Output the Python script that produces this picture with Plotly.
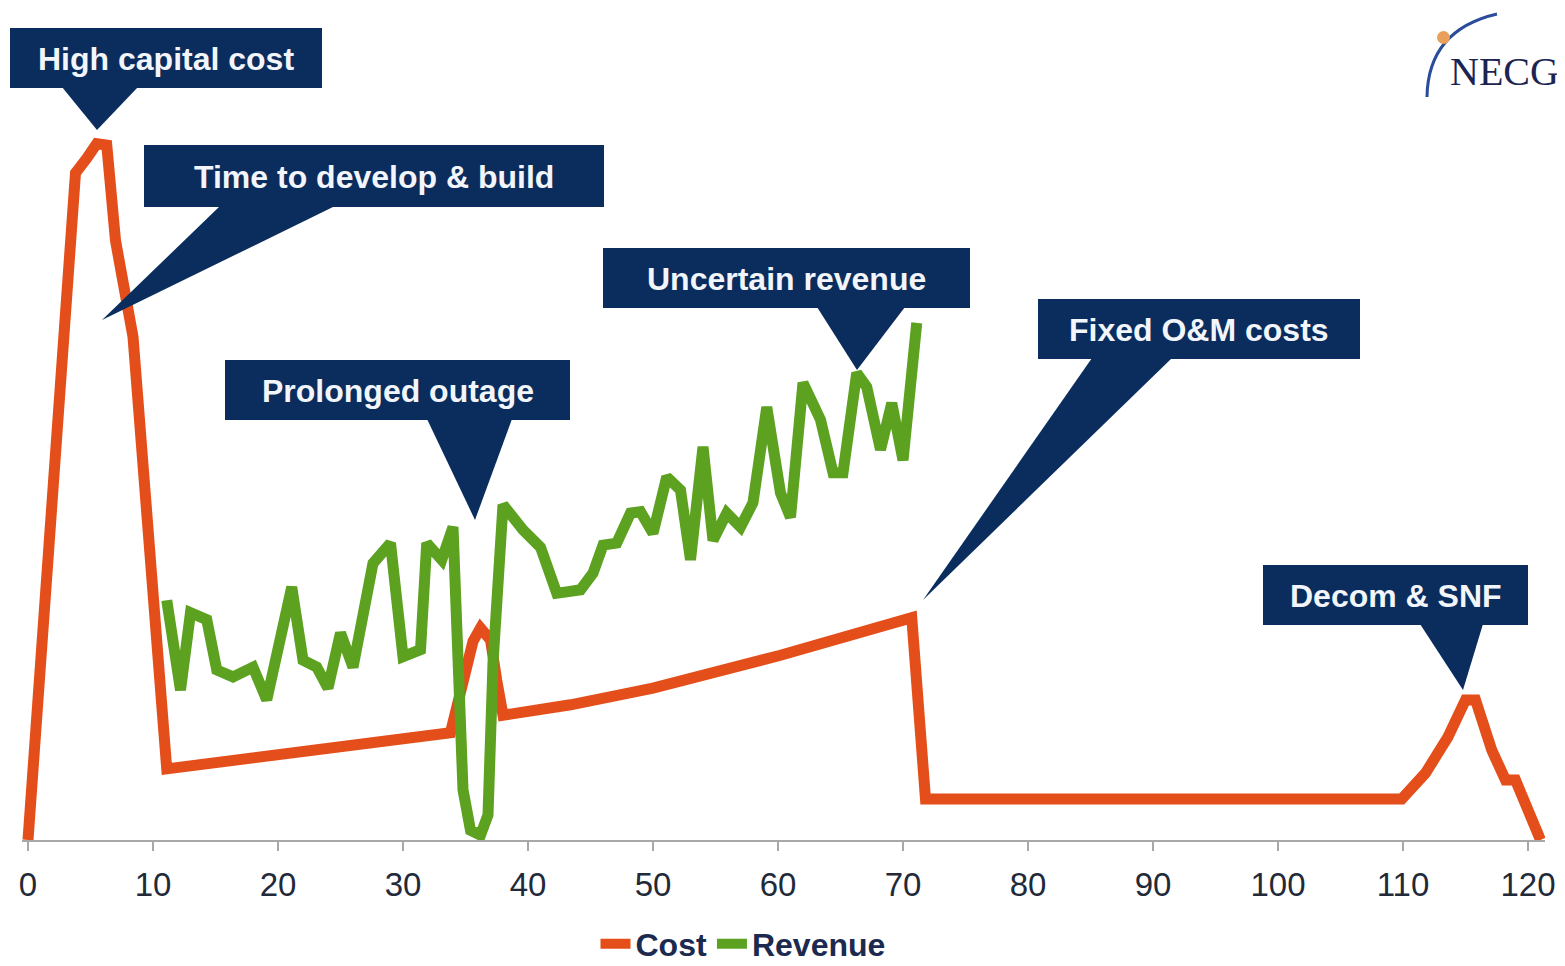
import plotly.graph_objects as go

# ---------------- data ----------------
cost_x = [0, 3.8, 4.7, 5.5, 6.3, 7.0, 8.4, 11.1, 33.8, 34.8, 35.6, 36.2, 37.0, 37.5, 38.0,
          43.4, 50.0, 60.2, 70.7, 71.8, 109.9, 111.8, 113.6, 115.0, 115.8, 117.1, 118.2, 119.0, 121.0]
cost_y = [0, 95.7, 97.8, 99.9, 99.7, 86.0, 72.2, 10.2, 15.4, 22.8, 28.5, 30.4, 28.7, 22.9, 17.9,
          19.4, 21.8, 26.5, 31.9, 5.9, 5.9, 9.6, 14.8, 20.1, 20.1, 12.9, 8.6, 8.6, 0.0]

rev_x = [11.1, 12.2, 13.0, 14.3, 15.1, 16.4, 18.0, 19.1, 21.1, 22.0,
         23.1, 24.0, 25.0, 26.0, 27.6, 29.0, 30.0, 31.4, 31.9, 33.1,
         34.0, 34.8, 35.4, 36.2, 36.8, 37.2, 38.0, 39.6, 41.0, 42.3,
         43.1, 44.2, 45.2, 46.0, 47.1, 48.2, 49.0, 50.0, 51.1, 52.2,
         53.0, 54.0, 54.8, 55.9, 57.0, 58.0, 59.1, 60.2, 61.0, 62.0,
         63.4, 64.4, 65.2, 66.3, 67.1, 68.2, 69.1, 70.0, 71.1]
rev_y = [34.4, 21.5, 32.6, 31.6, 24.4, 23.4, 24.8, 20.1, 36.3, 25.8,
         24.8, 21.8, 29.7, 24.8, 39.7, 42.6, 26.3, 27.3, 42.6, 40.2,
         44.9, 7.2, 1.4, 0.7, 3.6, 25.4, 48.1, 44.5, 42.0, 35.4,
         35.6, 35.9, 38.3, 42.3, 42.6, 46.9, 47.1, 44.0, 52.1, 50.2,
         40.2, 56.4, 43.0, 46.9, 44.9, 48.4, 62.1, 49.8, 46.3, 65.6,
         60.3, 52.7, 52.7, 67.0, 65.0, 56.0, 62.7, 54.5, 74.2]

tick_vals = [0, 10, 20, 30, 40, 50, 60, 70, 80, 90, 100, 110, 120]
tick_text = [str(v) for v in tick_vals]

callout_texts = ["High capital cost", "Time to develop & build", "Prolonged outage",
                 "Uncertain revenue", "Fixed O&M costs", "Decom & SNF"]

# ---------------- styling / layout geometry ----------------
OFF = 8                      # default page (body) margin of the html page
W, H = 1565 - OFF, 966 - OFF
ML, MR, MT, MB = 22 - OFF, 20, 20 - OFF, 126
PW, PH = W - ML - MR, H - MT - MB
ORANGE = "#E34E1A"
GREEN = "#5CA11F"
NAVY = "#0A2D5E"
FONT = "Liberation Sans, Arial, Helvetica, sans-serif"


def px(x):
    """page pixel x -> paper coordinate"""
    return (x - OFF - ML) / PW


def py(y):
    """page pixel y -> paper coordinate"""
    return (H - MB - (y - OFF)) / PH


# callout geometry in page pixels: box (x0, x1, y0, y1), pointer base (bx0, bx1), tip (tx, ty)
callout_geom = [
    ((10, 322, 28, 88), (62, 138), (97, 130)),
    ((144, 604, 145, 207), (220, 335), (102, 320)),
    ((225, 570, 360, 420), (427, 512), (475, 520)),
    ((603, 970, 248, 308), (817, 905), (857, 370)),
    ((1038, 1360, 299, 359), (1092, 1172), (923, 600)),
    ((1263, 1528, 565, 625), (1420, 1483), (1463, 690)),
]

fig = go.Figure()
fig.add_trace(go.Scatter(x=cost_x, y=cost_y, mode="lines", name="Cost",
                         line=dict(color=ORANGE, width=11)))
fig.add_trace(go.Scatter(x=rev_x, y=rev_y, mode="lines", name="Revenue",
                         line=dict(color=GREEN, width=11)))

shapes = []
annotations = []
for text, (box, base, tip) in zip(callout_texts, callout_geom):
    x0, x1, y0, y1 = box
    shapes.append(dict(type="rect", xref="paper", yref="paper",
                       x0=px(x0), x1=px(x1), y0=py(y1), y1=py(y0),
                       fillcolor=NAVY, line=dict(width=0), layer="above"))
    path = "M {:.5f} {:.5f} L {:.5f} {:.5f} L {:.5f} {:.5f} Z".format(
        px(base[0]), py(y1 - 1), px(base[1]), py(y1 - 1), px(tip[0]), py(tip[1]))
    shapes.append(dict(type="path", xref="paper", yref="paper", path=path,
                       fillcolor=NAVY, line=dict(width=0), layer="above"))
    annotations.append(dict(xref="paper", yref="paper", x=px((x0 + x1) / 2),
                            y=py((y0 + y1) / 2 + 1), text="<b>" + text + "</b>",
                            showarrow=False, xanchor="center", yanchor="middle",
                            font=dict(family=FONT, size=32, color="#F2F5FA")))

# NECG logo
shapes.append(dict(type="path", xref="paper", yref="paper",
                   path="M {:.5f} {:.5f} Q {:.5f} {:.5f} {:.5f} {:.5f}".format(
                       px(1427), py(97), px(1428), py(30), px(1497), py(14)),
                   line=dict(color="#2A4C9A", width=3), layer="above"))
shapes.append(dict(type="circle", xref="paper", yref="paper",
                   x0=px(1437), x1=px(1450), y0=py(44), y1=py(31),
                   fillcolor="#E8A05A", line=dict(width=0), layer="above"))
annotations.append(dict(xref="paper", yref="paper", x=px(1448), y=py(72), text="NECG",
                        showarrow=False, xanchor="left", yanchor="middle",
                        font=dict(family="Liberation Serif, Times New Roman, serif",
                                  size=40, color="#1C2452")))

fig.update_layout(
    width=W, height=H,
    margin=dict(l=ML, r=MR, t=MT, b=MB, autoexpand=False),
    paper_bgcolor="white", plot_bgcolor="white",
    shapes=shapes, annotations=annotations,
    showlegend=True,
    legend=dict(orientation="h", x=px(743), xanchor="center", y=py(944), yanchor="middle",
                font=dict(family=FONT, size=32, color="#1B2A4E", weight="bold"),
                itemwidth=30, tracegroupgap=0, bgcolor="rgba(0,0,0,0)"),
    xaxis=dict(range=[(22 - 28) / 12.5, (1545 - 28) / 12.5],
               tickmode="array", tickvals=tick_vals, ticktext=tick_text,
               showline=True, linecolor="#A8A8A8", linewidth=2,
               ticks="outside", ticklen=9, tickcolor="#A8A8A8", tickwidth=2,
               ticklabelstandoff=5,
               showgrid=False, zeroline=False,
               tickfont=dict(family=FONT, size=33, color="#222A3A")),
    yaxis=dict(range=[0, PH / 6.97], showticklabels=False, showgrid=False,
               zeroline=False, showline=False, ticks=""),
)

fig.write_html("out.html")
